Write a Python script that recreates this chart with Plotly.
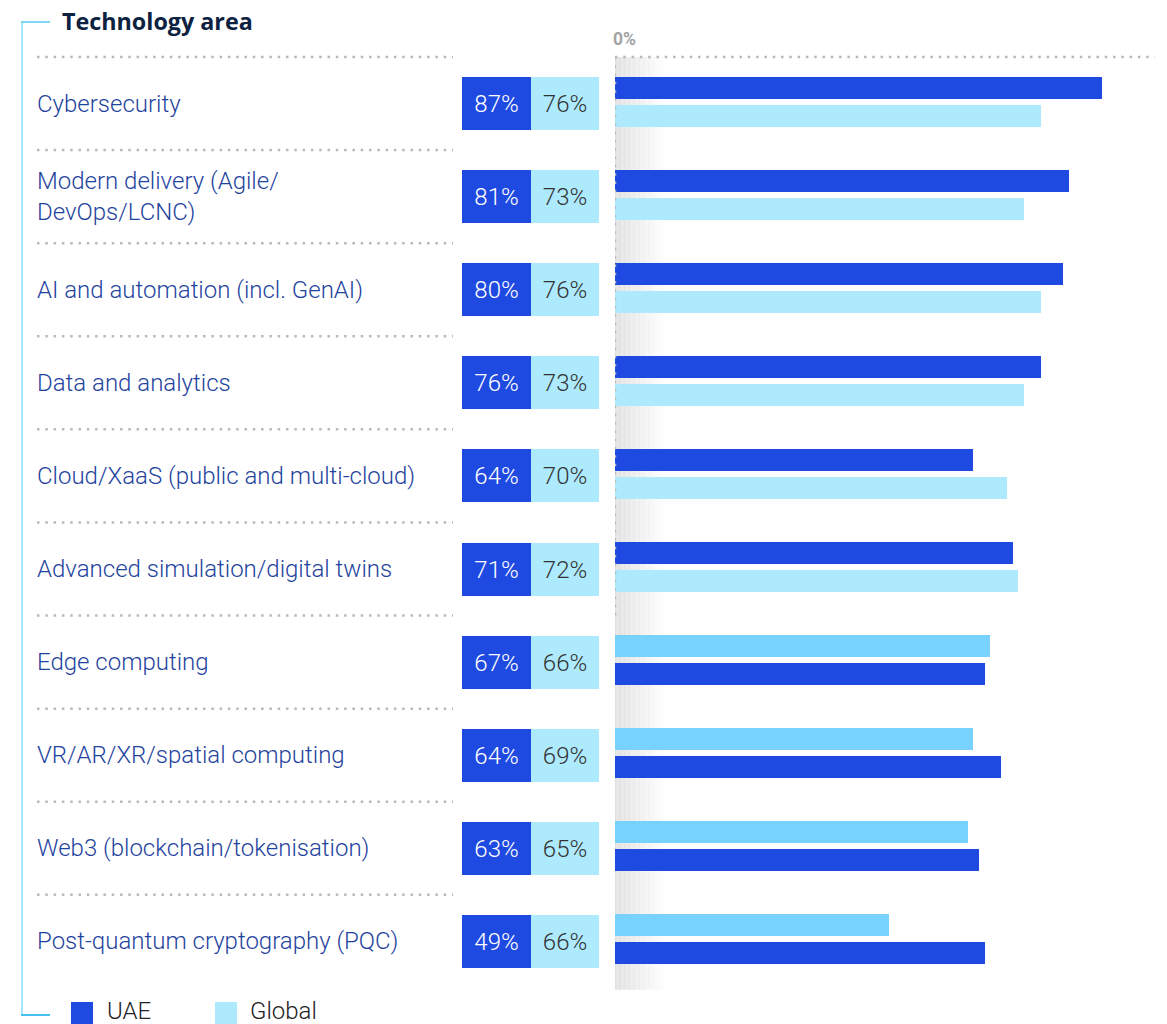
import plotly.graph_objects as go

# ---- data ----
categories = [
    "Cybersecurity",
    "Modern delivery (Agile/<br>DevOps/LCNC)",
    "AI and automation (incl. GenAI)",
    "Data and analytics",
    "Cloud/XaaS (public and multi-cloud)",
    "Advanced simulation/digital twins",
    "Edge computing",
    "VR/AR/XR/spatial computing",
    "Web3 (blockchain/tokenisation)",
    "Post-quantum cryptography (PQC)",
]
uae = [87, 81, 80, 76, 64, 71, 67, 64, 63, 49]
global_share = [76, 73, 76, 73, 70, 72, 66, 69, 65, 66]
series_names = ["UAE", "Global"]
axis_label = "0%"
section_title = "Technology area"

# ---- styling ----
W, H = 1167, 1024
FONT = "Roboto, 'Liberation Sans', Arial, sans-serif"
TITLE_FONT = "'Open Sans', Roboto, sans-serif"
DARK = "#1f4ae1"
LIGHT = "#aeeafe"
MID = "#78d2fe"
LABEL_C = "#1f449e"
DOT_C = "#b9b9b9"
BRACKET_C = "#a6e6fb"

ROW_PX = 93.1          # pixel pitch of one row
FIRST_ROW_PX = 103.5   # pixel centre of the first row
PX_PER_PCT = 5.6
X0_PX = 615            # pixel position of 0 %
swap_from = 6          # rows from here on draw the lighter bar on top

n = len(categories)
rows = list(range(n))


def px_to_paper_x(px):
    return px / W


def px_to_paper_y(py):
    return 1 - py / H


y_top = -FIRST_ROW_PX / ROW_PX
y_bot = (H - FIRST_ROW_PX) / ROW_PX
x_max = (W - X0_PX) / PX_PER_PCT

bar_w = 22 / ROW_PX
top_off = -27 / ROW_PX
bot_off = 1 / ROW_PX

top_colors = [DARK if i < swap_from else MID for i in rows]
bot_colors = [LIGHT if i < swap_from else DARK for i in rows]

fig = go.Figure()

# main bars: first bar of each row is the UAE share, second is the Global share
fig.add_trace(go.Bar(
    y=rows, x=uae, orientation="h", name=series_names[0],
    marker=dict(color=top_colors, line=dict(width=0)),
    width=bar_w, offset=top_off, xaxis="x", yaxis="y",
    hoverinfo="skip", showlegend=False,
))
fig.add_trace(go.Bar(
    y=rows, x=global_share, orientation="h", name=series_names[1],
    marker=dict(color=bot_colors, line=dict(width=0)),
    width=bar_w, offset=bot_off, xaxis="x", yaxis="y",
    hoverinfo="skip", showlegend=False,
))

# value boxes next to the labels
box_h = 53 / ROW_PX
box_font = 24
fig.add_trace(go.Bar(
    y=rows, x=[1] * n, base=0, orientation="h",
    marker=dict(color=DARK, line=dict(width=0)),
    width=box_h, offset=-box_h / 2, xaxis="x2", yaxis="y",
    text=[f"{v}%" for v in uae], textposition="inside",
    insidetextanchor="middle", textangle=0,
    textfont=dict(color="white", size=box_font, family=FONT, weight=300),
    hoverinfo="skip", showlegend=False,
))
fig.add_trace(go.Bar(
    y=rows, x=[1] * n, base=1, orientation="h",
    marker=dict(color=LIGHT, line=dict(width=0)),
    width=box_h, offset=-box_h / 2, xaxis="x2", yaxis="y",
    text=[f"{v}%" for v in global_share], textposition="inside",
    insidetextanchor="middle", textangle=0,
    textfont=dict(color="#333333", size=box_font, family=FONT, weight=300),
    hoverinfo="skip", showlegend=False,
))

shapes = []

# soft shadow along the zero line
steps = 40
grad_w = 9.0
for k in range(steps):
    t = k / steps
    c = int(224 + (255 - 224) * t)
    shapes.append(dict(
        type="rect", xref="x", yref="y", layer="below",
        x0=grad_w * k / steps, x1=grad_w * (k + 1) / steps,
        y0=-0.5, y1=9.52,
        fillcolor=f"rgb({c},{c},{c})", line=dict(width=0),
    ))

# dotted row separators
dot = dict(color=DOT_C, width=2.5, dash="2.5px,5.8px")
for i in range(n):
    shapes.append(dict(
        type="line", xref="paper", yref="y",
        x0=px_to_paper_x(37), x1=px_to_paper_x(453),
        y0=i - 0.5, y1=i - 0.5, line=dot,
    ))
shapes.append(dict(type="line", xref="x", yref="y", x0=0, x1=96.4,
                   y0=-0.5, y1=-0.5, line=dot))
shapes.append(dict(type="line", xref="x", yref="y", x0=0, x1=0,
                   y0=-0.5, y1=5.5, line=dot))

# bracket on the left
shapes.append(dict(type="line", xref="paper", yref="paper",
                   x0=px_to_paper_x(22), x1=px_to_paper_x(22),
                   y0=px_to_paper_y(22), y1=px_to_paper_y(1015),
                   line=dict(color=BRACKET_C, width=2)))
shapes.append(dict(type="line", xref="paper", yref="paper",
                   x0=px_to_paper_x(21), x1=px_to_paper_x(50),
                   y0=px_to_paper_y(22), y1=px_to_paper_y(22),
                   line=dict(color="#7fd8f8", width=2)))
shapes.append(dict(type="line", xref="paper", yref="paper",
                   x0=px_to_paper_x(21), x1=px_to_paper_x(50),
                   y0=px_to_paper_y(1015), y1=px_to_paper_y(1015),
                   line=dict(color="#45c2f2", width=2)))

# legend swatches
for x0, col in [(71, DARK), (215, LIGHT)]:
    shapes.append(dict(type="rect", xref="paper", yref="paper",
                       x0=px_to_paper_x(x0), x1=px_to_paper_x(x0 + 22),
                       y0=px_to_paper_y(1024), y1=px_to_paper_y(1002),
                       fillcolor=col, line=dict(width=0)))

annotations = []
for i, cat in enumerate(categories):
    annotations.append(dict(
        xref="paper", yref="y", x=px_to_paper_x(35), y=i,
        text=cat, showarrow=False, xanchor="left", yanchor="middle",
        align="left",
        font=dict(family=FONT, size=24, color=LABEL_C, weight=300),
    ))

annotations.append(dict(
    xref="paper", yref="paper", x=px_to_paper_x(60), y=px_to_paper_y(21),
    text=f"<b>{section_title}</b>", showarrow=False, xanchor="left",
    yanchor="middle", font=dict(family=TITLE_FONT, size=23.3, color="#0c2240"),
))
annotations.append(dict(
    xref="x", yref="paper", x=0, y=px_to_paper_y(39),
    text=f"<b>{axis_label}</b>", showarrow=False, xanchor="left",
    xshift=-4, yanchor="middle",
    font=dict(family=FONT, size=17.5, color="#a3a3a3"),
))
for xpx, name in [(105, series_names[0]), (248, series_names[1])]:
    annotations.append(dict(
        xref="paper", yref="paper", x=px_to_paper_x(xpx), y=px_to_paper_y(1011),
        text=name, showarrow=False, xanchor="left", yanchor="middle",
        font=dict(family=FONT, size=24, color="#222222", weight=300),
    ))

fig.update_layout(
    width=W, height=H,
    margin=dict(l=0, r=0, t=0, b=0),
    paper_bgcolor="white", plot_bgcolor="rgba(0,0,0,0)",
    barmode="overlay", bargap=0,
    showlegend=False,
    xaxis=dict(domain=[px_to_paper_x(X0_PX), 1], range=[0, x_max],
               visible=False, fixedrange=True),
    xaxis2=dict(domain=[px_to_paper_x(462), px_to_paper_x(599)], range=[0, 2],
                anchor="y", visible=False, fixedrange=True),
    yaxis=dict(domain=[0, 1], range=[y_bot, y_top], visible=False,
               fixedrange=True),
    shapes=shapes,
    annotations=annotations,
    font=dict(family=FONT),
)

fig.write_html("out.html")
